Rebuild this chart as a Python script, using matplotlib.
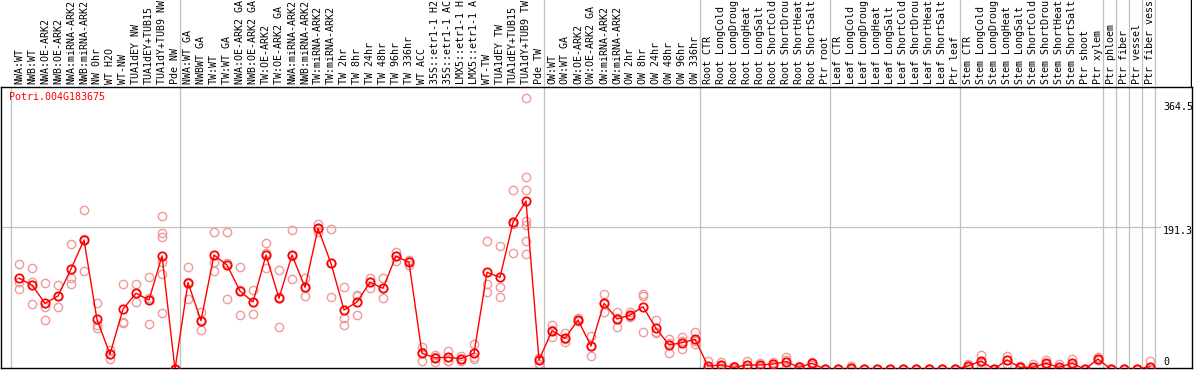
import matplotlib
matplotlib.use("Agg")
import matplotlib.pyplot as plt
from matplotlib.transforms import offset_copy

# Data =====================================================
gene = "Potri.004G183675"

samples = [
    "NWA:WT", "NWB:WT", "NWA:OE-ARK2", "NWB:OE-ARK2", "NWA:miRNA-ARK2",
    "NWB:miRNA-ARK2", "NW 0hr", "WT H2O", "WT-NW", "TUA1dEY NW",
    "TUA1dEY+TUB15", "TUA1dY+TUB9 NW", "Pde NW",
    "NWA:WT GA", "NWBWT GA", "TW:WT", "TW:WT GA", "NWA:OE-ARK2 GA",
    "NWB:OE-ARK2 GA", "TW:OE-ARK2", "TW:OE-ARK2 GA", "NWA:miRNA-ARK2",
    "NWB:miRNA-ARK2", "TW:miRNA-ARK2", "TW:miRNA-ARK2", "TW 2hr", "TW 8hr",
    "TW 24hr", "TW 48hr", "TW 96hr", "TW 336hr", "WT ACC", "35S::etr1-1 H2",
    "35S::etr1-1 AC", "LMX5::etr1-1 H", "LMX5::etr1-1 A", "WT-TW",
    "TUA1dEY TW", "TUA1dEY+TUB15", "TUA1dY+TUB9 TW", "Pde TW",
    "OW:WT", "OW:WT GA", "OW:OE-ARK2", "OW:OE-ARK2 GA", "OW:miRNA-ARK2",
    "OW:miRNA-ARK2", "OW 2hr", "OW 8hr", "OW 24hr", "OW 48hr", "OW 96hr",
    "OW 336hr",
    "Root CTR", "Root LongCold", "Root LongDroug", "Root LongHeat",
    "Root LongSalt", "Root ShortCold", "Root ShortDrou", "Root ShortHeat",
    "Root ShortSalt", "Ptr root",
    "Leaf CTR", "Leaf LongCold", "Leaf LongDroug", "Leaf LongHeat",
    "Leaf LongSalt", "Leaf ShortCold", "Leaf ShortDrou", "Leaf ShortHeat",
    "Leaf ShortSalt", "Ptr leaf",
    "Stem CTR", "Stem LongCold", "Stem LongDroug", "Stem LongHeat",
    "Stem LongSalt", "Stem ShortCold", "Stem ShortDrou", "Stem ShortHeat",
    "Stem ShortSalt", "Ptr shoot", "Ptr xylem",
    "Ptr phloem", "Ptr fiber", "Ptr vessel", "Ptr fiber vess",
]

means = [
    122.4, 113.4, 88.8, 98.6, 134.9, 173.9, 67.0, 20.2, 81.1, 102.2,
    93.2, 152.4, 0.0,
    116.5, 65.4, 153.7, 140.3, 105.3, 90.5, 153.7, 95.5, 153.7, 110.3,
    189.6, 142.6, 79.8, 90.5, 117.0, 108.9, 152.4, 143.9, 21.5, 15.6,
    16.1, 14.3, 21.5, 130.5, 123.7, 197.7, 226.4, 12.5,
    51.9, 41.7, 66.3, 31.3, 88.8, 67.7, 73.0, 84.2, 55.1, 32.7, 35.8, 40.3,
    4.4, 5.8, 2.7, 5.8, 5.8, 7.1, 10.2, 2.7, 8.1, 0.0,
    0.0, 1.3, 0.0, 0.0, 0.0, 0.0, 0.0, 0.0, 0.0, 0.0,
    4.4, 11.2, 0.0, 12.5, 2.7, 2.7, 8.1, 2.7, 8.1, 0.0, 13.9,
    0.0, 0.0, 0.0, 3.5,
]

replicates = [
    [141.2, 117.8, 107.6], [135.8, 87.4, 117.0], [115.7, 84.2, 66.3],
    [113.4, 83.4, 99.0], [168.5, 122.4, 114.3], [214.3, 132.2, 175.2],
    [89.6, 59.6, 55.2], [26.0, 13.4, 21.2], [114.3, 64.0, 62.7],
    [114.3, 90.1, 102.2], [123.7, 60.5, 95.4],
    [206.2, 182.9, 177.5, 144.7, 127.8, 76.1], [0, 0, 0],
    [138.0, 94.6, 116.9], [77.5, 52.9, 65.8], [184.3, 144.7, 132.2],
    [184.3, 94.1, 142.5], [137.2, 72.6, 106.1], [106.7, 74.4, 90.4],
    [169.5, 135.8, 155.8], [133.2, 56.5, 96.8], [187.4, 121.0, 152.7],
    [122.4, 98.6, 109.9], [195.4, 188.3, 185.1], [188.3, 96.8, 142.7],
    [110.3, 68.6, 59.6], [98.6, 72.6, 100.3], [123.2, 109.8, 118.0],
    [122.4, 95.5, 108.8], [158.2, 146.1, 152.9], [140.0, 145.0, 147.0],
    [30.4, 11.2, 22.9], [16.9, 10.2, 19.7], [25.0, 11.6, 11.7],
    [18.3, 11.2, 13.4], [34.0, 16.9, 13.6], [172.6, 114.7, 103.6],
    [165.8, 110.3, 96.8], [241.2, 156.0, 195.9],
    [364.5, 259.0, 241.2, 199.9, 194.1, 172.2, 155.1], [14.8, 7.1, 15.6],
    [59.6, 43.0, 53.1], [48.4, 36.3, 40.4], [69.0, 65.0, 65.0],
    [44.8, 18.3, 30.8], [101.3, 76.7, 88.4], [76.7, 57.3, 69.1],
    [76.7, 72.1, 70.2], [101.3, 99.0, 50.6], [66.3, 49.8, 49.2],
    [40.8, 21.5, 35.8], [43.0, 26.9, 37.5], [49.8, 33.6, 37.5],
    [11.6, 1.6, 0.0], [10.2, 5.0, 2.2], [4.8, 2.5, 0.8], [11.6, 3.5, 2.3],
    [9.0, 5.0, 3.4], [10.2, 6.5, 4.6], [16.1, 12.0, 2.5], [4.0, 3.0, 1.0],
    [10.2, 8.0, 6.1], [0, 0, 0],
    [0, 0, 0], [4.4, 0, 0], [0, 0, 0], [0, 0, 0], [0, 0, 0], [0, 0, 0],
    [0, 0, 0], [0, 0, 0], [0, 0, 0], [0, 0, 0],
    [7.0, 4.0, 2.2], [19.2, 4.8, 9.6], [0, 0, 0], [17.9, 6.7, 12.9],
    [4.8, 2.0, 1.3], [7.1, 1.0, 0.0], [12.5, 4.4, 7.4], [6.7, 1.0, 0.4],
    [13.4, 4.8, 6.1], [0, 0, 0], [16.9, 12.5, 12.3],
    [0, 0, 0], [0, 0, 0], [0, 0, 0], [11.2, 0, 0],
]

# index of first sample in each block (gray separators)
group_starts = [0, 13, 41, 53, 63, 73, 84, 85, 86, 87, 88]
ytick_vals = [364.5, 191.3, 0]
ytick_labels = ["364.5", "191.3", "0"]

# Plot =====================================================
W, H = 1194, 370
plt.rcParams["font.family"] = "DejaVu Sans Mono"
fig = plt.figure(figsize=(W / 100, H / 100), dpi=100)

top_px = 87
ax = fig.add_axes([1 / W, 2 / H, 1191 / W, (368 - top_px) / H])
hd = fig.add_axes([1 / W, (H - top_px) / H, 1191 / W, top_px / H])

xlim = (-18 / 13, 1173 / 13)
ax.set_xlim(xlim)
ax.set_ylim(1.75, 379.7)
hd.set_xlim(xlim)
hd.set_ylim(0, top_px)

gray = "#c0c0c0"
seps = [k - 8 / 13 for k in group_starts]
for s in seps:
    ax.axvline(s, color=gray, lw=0.9, zorder=1)
for s in seps[1:]:
    hd.axvline(s, color=gray, lw=0.9, zorder=1)
ax.plot([xlim[0], (1160 - 19) / 13], [191.3, 191.3], color=gray, lw=0.9, zorder=1)

x = list(range(len(samples)))
rx, ry = [], []
for i, reps in enumerate(replicates):
    rx += [i] * len(reps)
    ry += reps
ax.plot(rx, ry, ls="none", marker="o", ms=6, mfc="none", mec="#f09a9a",
        mew=1.0, zorder=2, clip_on=True)
ax.plot(x, means, color="red", lw=1.0, marker="o", ms=6, mfc="none",
        mec="red", mew=1.3, zorder=3)

for sp in ["left", "bottom", "right", "top"]:
    ax.spines[sp].set_color("black")
    ax.spines[sp].set_linewidth(1.0)
ax.set_xticks([])
ax.set_yticks([])

hd.axis("off")
hd.plot([xlim[1] - 0.05, xlim[1] - 0.05], [0, top_px], color="black", lw=1.0)
for i, name in enumerate(samples):
    hd.text(i, 3, name, rotation=90, ha="center", va="bottom", fontsize=7.2,
            color="black")

# y labels on the right
offs = [-8.7, -4.3, 7.3]  # pixel shifts (down is negative)
for v, lab, o in zip(ytick_vals, ytick_labels, offs):
    tr = offset_copy(ax.transData, fig=fig, x=0, y=o * 0.72, units="points")
    ax.text((1163 - 19) / 13, v, lab, transform=tr, ha="left", va="center",
            fontsize=7.2, color="black", clip_on=False)

fig.text(9 / W, 1 - 92 / H, gene, color="red", fontsize=7.2, ha="left", va="top")

fig.savefig("out.png", dpi=100)
